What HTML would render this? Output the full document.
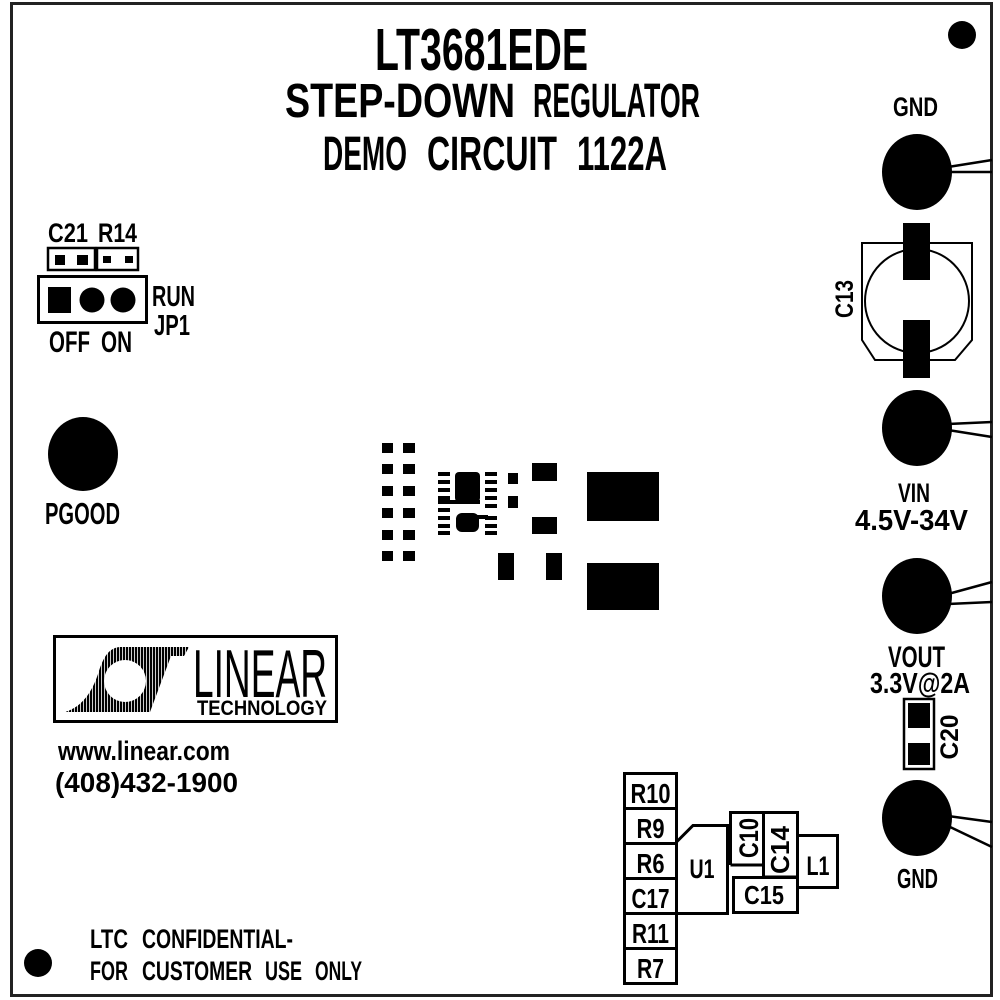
<!DOCTYPE html>
<html>
<head>
<meta charset="utf-8">
<style>
  html,body{margin:0;padding:0;background:#fff;}
  svg{display:block;}
  text{font-family:"Liberation Sans", Arial, sans-serif;font-weight:bold;fill:#000;}
</style>
</head>
<body>
<svg width="1000" height="1000" viewBox="0 0 1000 1000" xmlns="http://www.w3.org/2000/svg">
  <defs>
    <pattern id="stripes" width="3" height="10" patternUnits="userSpaceOnUse">
      <rect x="0" y="0" width="2.2" height="10" fill="#000"/>
    </pattern>
  </defs>
  <rect x="0" y="0" width="1000" height="1000" fill="#fff"/>
  <!-- board outline -->
  <rect x="11.5" y="3.5" width="980" height="992" fill="none" stroke="#222" stroke-width="3"/>

  <!-- Title -->
  <text x="375" y="70" font-size="59" textLength="213" lengthAdjust="spacingAndGlyphs">LT3681EDE</text>
  <text x="285" y="117" font-size="48" textLength="230" lengthAdjust="spacingAndGlyphs">STEP-DOWN</text>
  <text x="533" y="117" font-size="48" textLength="167" lengthAdjust="spacingAndGlyphs">REGULATOR</text>
  <text x="323" y="170" font-size="48" textLength="84" lengthAdjust="spacingAndGlyphs">DEMO</text>
  <text x="427" y="170" font-size="48" textLength="130" lengthAdjust="spacingAndGlyphs">CIRCUIT</text>
  <text x="577" y="170" font-size="48" textLength="90" lengthAdjust="spacingAndGlyphs">1122A</text>

  <!-- corner dots -->
  <circle cx="962" cy="35" r="14" fill="#000"/>
  <circle cx="38" cy="963" r="14" fill="#000"/>

  <!-- C21 R14 / JP1 -->
  <text x="48" y="242" font-size="27" textLength="40" lengthAdjust="spacingAndGlyphs">C21</text>
  <text x="98" y="242" font-size="27" textLength="39" lengthAdjust="spacingAndGlyphs">R14</text>
  <rect x="48" y="248" width="47" height="22" fill="none" stroke="#000" stroke-width="2.5"/>
  <rect x="55" y="255" width="10" height="10" fill="#000"/>
  <rect x="77" y="255" width="11" height="10" fill="#000"/>
  <rect x="97" y="248" width="41" height="22" fill="none" stroke="#000" stroke-width="2.5"/>
  <rect x="103" y="256" width="8" height="7" fill="#000"/>
  <rect x="125" y="256" width="8" height="7" fill="#000"/>
  <rect x="38.5" y="276.5" width="108" height="46" fill="none" stroke="#000" stroke-width="3"/>
  <rect x="48" y="287" width="23" height="26" fill="#000"/>
  <circle cx="92" cy="300" r="12.5" fill="#000"/>
  <circle cx="123" cy="300" r="12.5" fill="#000"/>
  <text x="152" y="306" font-size="29" textLength="43" lengthAdjust="spacingAndGlyphs">RUN</text>
  <text x="154" y="335" font-size="29" textLength="36" lengthAdjust="spacingAndGlyphs">JP1</text>
  <text x="49" y="352" font-size="30" textLength="41" lengthAdjust="spacingAndGlyphs">OFF</text>
  <text x="101" y="352" font-size="30" textLength="31" lengthAdjust="spacingAndGlyphs">ON</text>

  <!-- PGOOD -->
  <ellipse cx="83" cy="454" rx="35" ry="37" fill="#000"/>
  <text x="45" y="524" font-size="31" textLength="75" lengthAdjust="spacingAndGlyphs">PGOOD</text>

  <!-- Center pads: 2 columns small squares -->
  <g fill="#000">
    <rect x="382" y="443" width="11" height="10"/><rect x="403" y="443" width="12" height="10"/>
    <rect x="382" y="464" width="11" height="10"/><rect x="403" y="464" width="12" height="10"/>
    <rect x="382" y="486" width="11" height="10"/><rect x="403" y="486" width="12" height="10"/>
    <rect x="382" y="508" width="11" height="10"/><rect x="403" y="508" width="12" height="10"/>
    <rect x="382" y="530" width="11" height="10"/><rect x="403" y="530" width="12" height="10"/>
    <rect x="382" y="551" width="11" height="10"/><rect x="403" y="551" width="12" height="10"/>
  </g>
  <!-- IC footprint -->
  <g fill="#000">
    <rect x="438" y="472" width="12" height="4"/>
    <rect x="438" y="480" width="12" height="4"/>
    <rect x="438" y="488" width="12" height="4"/>
    <rect x="438" y="496" width="12" height="4"/>
    <rect x="438" y="508" width="12" height="4"/>
    <rect x="438" y="516" width="12" height="4"/>
    <rect x="438" y="524" width="12" height="4"/>
    <rect x="438" y="531" width="12" height="4"/>
    <rect x="485" y="472" width="12" height="4"/>
    <rect x="485" y="480" width="12" height="4"/>
    <rect x="485" y="488" width="12" height="4"/>
    <rect x="485" y="496" width="12" height="4"/>
    <rect x="485" y="504" width="12" height="4"/>
    <rect x="485" y="516" width="12" height="4"/>
    <rect x="485" y="524" width="12" height="4"/>
    <rect x="485" y="531" width="12" height="4"/>
    <rect x="455" y="472" width="25" height="30" rx="4"/>
    <rect x="438" y="500" width="42" height="4"/>
    <rect x="456" y="513" width="23" height="19" rx="6"/>
    <rect x="476" y="515" width="12" height="4"/>
    <rect x="508" y="473" width="10" height="11"/>
    <rect x="508" y="496" width="10" height="12"/>
    <rect x="532" y="463" width="25" height="18"/>
    <rect x="532" y="517" width="25" height="17"/>
    <rect x="498" y="553" width="16" height="27"/>
    <rect x="546" y="553" width="16" height="27"/>
    <rect x="587" y="472" width="72" height="49"/>
    <rect x="587" y="563" width="72" height="47"/>
  </g>

  <!-- Right side: GND top -->
  <text x="893" y="116" font-size="27" textLength="45" lengthAdjust="spacingAndGlyphs">GND</text>
  <ellipse cx="917" cy="172" rx="35" ry="38" fill="#000"/>
  <line x1="948" y1="167" x2="992" y2="160" stroke="#000" stroke-width="2.5"/>
  <line x1="948" y1="172" x2="992" y2="172" stroke="#000" stroke-width="2.5"/>

  <!-- C13 -->
  <path d="M862,340 L862,243 L972,243 L972,340 L955,360 L875,360 Z" fill="none" stroke="#000" stroke-width="2"/>
  <circle cx="917" cy="301" r="52" fill="none" stroke="#000" stroke-width="2"/>
  <rect x="903" y="223" width="27" height="57" fill="#000"/>
  <rect x="903" y="320" width="27" height="58" fill="#000"/>
  <text transform="translate(844,299) rotate(-90)" x="0" y="9" font-size="25" text-anchor="middle" textLength="38" lengthAdjust="spacingAndGlyphs">C13</text>

  <!-- VIN -->
  <ellipse cx="917" cy="428" rx="35" ry="38" fill="#000"/>
  <line x1="948" y1="424" x2="992" y2="422" stroke="#000" stroke-width="2.5"/>
  <line x1="948" y1="430" x2="992" y2="437" stroke="#000" stroke-width="2.5"/>
  <text x="898" y="502" font-size="27" textLength="32" lengthAdjust="spacingAndGlyphs">VIN</text>
  <text x="855" y="530" font-size="29" textLength="113" lengthAdjust="spacingAndGlyphs">4.5V-34V</text>

  <!-- VOUT -->
  <ellipse cx="917" cy="596" rx="35" ry="38" fill="#000"/>
  <line x1="948" y1="594" x2="992" y2="582" stroke="#000" stroke-width="2.5"/>
  <line x1="948" y1="604" x2="992" y2="602" stroke="#000" stroke-width="2.5"/>
  <text x="888" y="667" font-size="30" textLength="57" lengthAdjust="spacingAndGlyphs">VOUT</text>
  <text x="870" y="693" font-size="29" textLength="100" lengthAdjust="spacingAndGlyphs">3.3V@2A</text>

  <!-- C20 -->
  <rect x="904" y="699" width="30" height="70" fill="none" stroke="#000" stroke-width="2.5"/>
  <rect x="908" y="703" width="22" height="25" fill="#000"/>
  <rect x="908" y="743" width="22" height="22" fill="#000"/>
  <text transform="translate(949,737) rotate(-90)" x="0" y="9" font-size="25" text-anchor="middle" textLength="45" lengthAdjust="spacingAndGlyphs">C20</text>

  <!-- GND bottom -->
  <ellipse cx="917" cy="818" rx="35" ry="38" fill="#000"/>
  <line x1="948" y1="816" x2="992" y2="822" stroke="#000" stroke-width="2.5"/>
  <line x1="948" y1="826" x2="992" y2="847" stroke="#000" stroke-width="2.5"/>
  <text x="897" y="888" font-size="28" textLength="41" lengthAdjust="spacingAndGlyphs">GND</text>

  <!-- Logo -->
  <rect x="54.5" y="636.5" width="282" height="85" fill="none" stroke="#000" stroke-width="3"/>
  <path d="M65,712 C82,707 92,692 98,674 C103,658 108,648 120,647 L189,647 L184,656 L171,656 L150,712 Z" fill="url(#stripes)"/>
  <circle cx="125" cy="681" r="21" fill="#fff"/>
  <text x="193" y="697" font-size="68" style="font-weight:normal" textLength="134" lengthAdjust="spacingAndGlyphs">LINEAR</text>
  <text x="197" y="715" font-size="21" textLength="130" lengthAdjust="spacingAndGlyphs">TECHNOLOGY</text>

  <text x="58" y="760" font-size="27" textLength="172" lengthAdjust="spacingAndGlyphs">www.linear.com</text>
  <text x="55" y="792" font-size="28" textLength="183" lengthAdjust="spacingAndGlyphs">(408)432-1900</text>

  <text x="90" y="948" font-size="27" textLength="38" lengthAdjust="spacingAndGlyphs">LTC</text>
  <text x="142" y="948" font-size="27" textLength="151" lengthAdjust="spacingAndGlyphs">CONFIDENTIAL-</text>
  <text x="90" y="980" font-size="27" textLength="38" lengthAdjust="spacingAndGlyphs">FOR</text>
  <text x="142" y="980" font-size="27" textLength="110" lengthAdjust="spacingAndGlyphs">CUSTOMER</text>
  <text x="265" y="980" font-size="27" textLength="37" lengthAdjust="spacingAndGlyphs">USE</text>
  <text x="315" y="980" font-size="27" textLength="47" lengthAdjust="spacingAndGlyphs">ONLY</text>

  <!-- Bottom component column -->
  <g fill="none" stroke="#000" stroke-width="3">
    <rect x="624.5" y="773.5" width="52" height="35"/>
    <rect x="624.5" y="808.5" width="52" height="35"/>
    <rect x="624.5" y="843.5" width="52" height="35"/>
    <rect x="624.5" y="878.5" width="52" height="35"/>
    <rect x="624.5" y="913.5" width="52" height="35"/>
    <rect x="624.5" y="948.5" width="52" height="35"/>
    <path d="M676.5,842 L693,825.5 L727.5,825.5 L727.5,913.5 L676.5,913.5"/>
    <path d="M730.5,865 L730.5,812.5 L797.5,812.5 L797.5,877 L763.5,877 L763.5,812.5 M730.5,865 L763.5,865"/>
    <rect x="733.5" y="877.5" width="64" height="35"/>
    <rect x="797.5" y="835.5" width="40" height="52"/>
  </g>
  <text x="650.5" y="803" font-size="28" text-anchor="middle" textLength="40" lengthAdjust="spacingAndGlyphs">R10</text>
  <text x="650.5" y="838" font-size="28" text-anchor="middle" textLength="28" lengthAdjust="spacingAndGlyphs">R9</text>
  <text x="650.5" y="873" font-size="28" text-anchor="middle" textLength="28" lengthAdjust="spacingAndGlyphs">R6</text>
  <text x="650.5" y="908" font-size="28" text-anchor="middle" textLength="38" lengthAdjust="spacingAndGlyphs">C17</text>
  <text x="650.5" y="943" font-size="28" text-anchor="middle" textLength="37" lengthAdjust="spacingAndGlyphs">R11</text>
  <text x="650.5" y="978" font-size="28" text-anchor="middle" textLength="27" lengthAdjust="spacingAndGlyphs">R7</text>
  <text x="702" y="878" font-size="27" text-anchor="middle" textLength="25" lengthAdjust="spacingAndGlyphs">U1</text>
  <text x="764" y="904" font-size="26" text-anchor="middle" textLength="40" lengthAdjust="spacingAndGlyphs">C15</text>
  <text x="818" y="875" font-size="27" text-anchor="middle" textLength="23" lengthAdjust="spacingAndGlyphs">L1</text>
  <text transform="translate(748,838) rotate(-90)" x="0" y="10" font-size="27" text-anchor="middle" textLength="40" lengthAdjust="spacingAndGlyphs">C10</text>
  <text transform="translate(780,850) rotate(-90)" x="0" y="9" font-size="26" text-anchor="middle" textLength="48" lengthAdjust="spacingAndGlyphs">C14</text>
</svg>
</body>
</html>
